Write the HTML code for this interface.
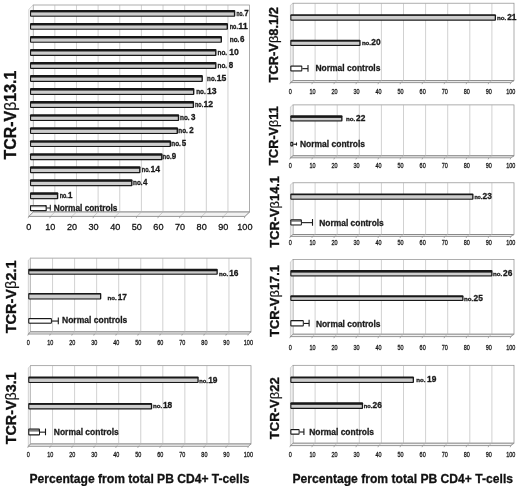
<!DOCTYPE html>
<html lang="en">
<head>
<meta charset="utf-8">
<title>TCR-Vβ expansions - percentage from total PB CD4+ T-cells</title>
<style>
html,body{margin:0;padding:0;background:#fff;}
body{width:520px;height:486px;overflow:hidden;}
svg{display:block;font-family:"Liberation Sans", sans-serif;}
text{font-family:"Liberation Sans", sans-serif;}
</style>
</head>
<body>
<svg width="520" height="486" viewBox="0 0 520 486">
<rect x="0" y="0" width="520" height="486" fill="#ffffff"/>
<rect x="33.2" y="5" width="216.4" height="207" fill="#fff" stroke="#8a8a8a" stroke-width="0.7"/>
<polygon points="28.75,216.4 33.2,212 33.2,5 28.75,9.4" fill="#fafafa" stroke="#b0b0b0" stroke-width="0.5"/>
<polygon points="28.75,216.4 33.2,212 249.6,212 244.9,216.4" fill="#f2f2f2" stroke="#6a6a6a" stroke-width="0.7"/>
<line x1="33.2" y1="212" x2="28.75" y2="216.4" stroke="#b2b2b2" stroke-width="0.6"/>
<line x1="28.75" y1="216.4" x2="28.15" y2="218.2" stroke="#777" stroke-width="0.6"/>
<text transform="translate(28.75 229.9) scale(0.95 1)" font-size="9.6" font-weight="normal" text-anchor="middle" fill="#141414" stroke="#141414" stroke-width="0.3">0</text>
<line x1="54.84" y1="5" x2="54.84" y2="212" stroke="#b2b2b2" stroke-width="0.6"/>
<line x1="54.84" y1="212" x2="50.37" y2="216.4" stroke="#b2b2b2" stroke-width="0.6"/>
<line x1="50.37" y1="216.4" x2="49.77" y2="218.2" stroke="#777" stroke-width="0.6"/>
<text transform="translate(50.37 229.9) scale(0.95 1)" font-size="9.6" font-weight="normal" text-anchor="middle" fill="#141414" stroke="#141414" stroke-width="0.3">10</text>
<line x1="76.48" y1="5" x2="76.48" y2="212" stroke="#b2b2b2" stroke-width="0.6"/>
<line x1="76.48" y1="212" x2="71.98" y2="216.4" stroke="#b2b2b2" stroke-width="0.6"/>
<line x1="71.98" y1="216.4" x2="71.38" y2="218.2" stroke="#777" stroke-width="0.6"/>
<text transform="translate(71.98 229.9) scale(0.95 1)" font-size="9.6" font-weight="normal" text-anchor="middle" fill="#141414" stroke="#141414" stroke-width="0.3">20</text>
<line x1="98.12" y1="5" x2="98.12" y2="212" stroke="#b2b2b2" stroke-width="0.6"/>
<line x1="98.12" y1="212" x2="93.59" y2="216.4" stroke="#b2b2b2" stroke-width="0.6"/>
<line x1="93.59" y1="216.4" x2="93" y2="218.2" stroke="#777" stroke-width="0.6"/>
<text transform="translate(93.59 229.9) scale(0.95 1)" font-size="9.6" font-weight="normal" text-anchor="middle" fill="#141414" stroke="#141414" stroke-width="0.3">30</text>
<line x1="119.76" y1="5" x2="119.76" y2="212" stroke="#b2b2b2" stroke-width="0.6"/>
<line x1="119.76" y1="212" x2="115.21" y2="216.4" stroke="#b2b2b2" stroke-width="0.6"/>
<line x1="115.21" y1="216.4" x2="114.61" y2="218.2" stroke="#777" stroke-width="0.6"/>
<text transform="translate(115.21 229.9) scale(0.95 1)" font-size="9.6" font-weight="normal" text-anchor="middle" fill="#141414" stroke="#141414" stroke-width="0.3">40</text>
<line x1="141.4" y1="5" x2="141.4" y2="212" stroke="#b2b2b2" stroke-width="0.6"/>
<line x1="141.4" y1="212" x2="136.83" y2="216.4" stroke="#b2b2b2" stroke-width="0.6"/>
<line x1="136.83" y1="216.4" x2="136.23" y2="218.2" stroke="#777" stroke-width="0.6"/>
<text transform="translate(136.83 229.9) scale(0.95 1)" font-size="9.6" font-weight="normal" text-anchor="middle" fill="#141414" stroke="#141414" stroke-width="0.3">50</text>
<line x1="163.04" y1="5" x2="163.04" y2="212" stroke="#b2b2b2" stroke-width="0.6"/>
<line x1="163.04" y1="212" x2="158.44" y2="216.4" stroke="#b2b2b2" stroke-width="0.6"/>
<line x1="158.44" y1="216.4" x2="157.84" y2="218.2" stroke="#777" stroke-width="0.6"/>
<text transform="translate(158.44 229.9) scale(0.95 1)" font-size="9.6" font-weight="normal" text-anchor="middle" fill="#141414" stroke="#141414" stroke-width="0.3">60</text>
<line x1="184.68" y1="5" x2="184.68" y2="212" stroke="#b2b2b2" stroke-width="0.6"/>
<line x1="184.68" y1="212" x2="180.06" y2="216.4" stroke="#b2b2b2" stroke-width="0.6"/>
<line x1="180.06" y1="216.4" x2="179.46" y2="218.2" stroke="#777" stroke-width="0.6"/>
<text transform="translate(180.06 229.9) scale(0.95 1)" font-size="9.6" font-weight="normal" text-anchor="middle" fill="#141414" stroke="#141414" stroke-width="0.3">70</text>
<line x1="206.32" y1="5" x2="206.32" y2="212" stroke="#b2b2b2" stroke-width="0.6"/>
<line x1="206.32" y1="212" x2="201.67" y2="216.4" stroke="#b2b2b2" stroke-width="0.6"/>
<line x1="201.67" y1="216.4" x2="201.07" y2="218.2" stroke="#777" stroke-width="0.6"/>
<text transform="translate(201.67 229.9) scale(0.95 1)" font-size="9.6" font-weight="normal" text-anchor="middle" fill="#141414" stroke="#141414" stroke-width="0.3">80</text>
<line x1="227.96" y1="5" x2="227.96" y2="212" stroke="#b2b2b2" stroke-width="0.6"/>
<line x1="227.96" y1="212" x2="223.29" y2="216.4" stroke="#b2b2b2" stroke-width="0.6"/>
<line x1="223.29" y1="216.4" x2="222.69" y2="218.2" stroke="#777" stroke-width="0.6"/>
<text transform="translate(223.29 229.9) scale(0.95 1)" font-size="9.6" font-weight="normal" text-anchor="middle" fill="#141414" stroke="#141414" stroke-width="0.3">90</text>
<line x1="249.6" y1="212" x2="244.9" y2="216.4" stroke="#b2b2b2" stroke-width="0.6"/>
<line x1="244.9" y1="216.4" x2="244.3" y2="218.2" stroke="#777" stroke-width="0.6"/>
<text transform="translate(244.9 229.9) scale(0.95 1)" font-size="9.6" font-weight="normal" text-anchor="middle" fill="#141414" stroke="#141414" stroke-width="0.3">100</text>
<rect x="30" y="9.9" width="205.3" height="6.9" rx="1" ry="1" fill="#181818"/>
<rect x="31.1" y="12.4" width="202.8" height="3.25" fill="#cdcdcd"/>
<text y="16" font-weight="bold" fill="#1a1a1a" stroke="#1a1a1a" stroke-width="0.3"><tspan x="236.5" font-size="6.4" textLength="7.35" lengthAdjust="spacingAndGlyphs">no.</tspan><tspan x="244.15" font-size="9" textLength="4.45" lengthAdjust="spacingAndGlyphs">7</tspan></text>
<rect x="30" y="22.93" width="198" height="6.9" rx="1" ry="1" fill="#181818"/>
<rect x="31.1" y="25.43" width="195.5" height="3.25" fill="#cdcdcd"/>
<text y="29.03" font-weight="bold" fill="#1a1a1a" stroke="#1a1a1a" stroke-width="0.3"><tspan x="229.8" font-size="6.4" textLength="8.1" lengthAdjust="spacingAndGlyphs">no.</tspan><tspan x="238.2" font-size="9" textLength="9.6" lengthAdjust="spacingAndGlyphs">11</tspan></text>
<rect x="30" y="35.96" width="192" height="6.9" rx="1" ry="1" fill="#181818"/>
<rect x="31.1" y="38.46" width="189.5" height="3.25" fill="#cdcdcd"/>
<text y="42.06" font-weight="bold" fill="#1a1a1a" stroke="#1a1a1a" stroke-width="0.3"><tspan x="229.8" font-size="6.4" textLength="9.6" lengthAdjust="spacingAndGlyphs">no.</tspan><tspan x="239.95" font-size="9" textLength="4.45" lengthAdjust="spacingAndGlyphs">6</tspan></text>
<rect x="30" y="48.99" width="186.5" height="6.9" rx="1" ry="1" fill="#181818"/>
<rect x="31.1" y="51.49" width="184" height="3.25" fill="#cdcdcd"/>
<text y="55.09" font-weight="bold" fill="#1a1a1a" stroke="#1a1a1a" stroke-width="0.3"><tspan x="217.5" font-size="6.4" textLength="9.6" lengthAdjust="spacingAndGlyphs">no.</tspan><tspan x="229.2" font-size="9" textLength="9.6" lengthAdjust="spacingAndGlyphs">10</tspan></text>
<rect x="30" y="62.02" width="186.5" height="6.9" rx="1" ry="1" fill="#181818"/>
<rect x="31.1" y="64.52" width="184" height="3.25" fill="#cdcdcd"/>
<text y="68.12" font-weight="bold" fill="#1a1a1a" stroke="#1a1a1a" stroke-width="0.3"><tspan x="217.5" font-size="6.4" textLength="9.6" lengthAdjust="spacingAndGlyphs">no.</tspan><tspan x="228.65" font-size="9" textLength="4.45" lengthAdjust="spacingAndGlyphs">8</tspan></text>
<rect x="30" y="75.05" width="172.9" height="6.9" rx="1" ry="1" fill="#181818"/>
<rect x="31.1" y="77.55" width="170.4" height="3.25" fill="#cdcdcd"/>
<text y="81.15" font-weight="bold" fill="#1a1a1a" stroke="#1a1a1a" stroke-width="0.3"><tspan x="207.1" font-size="6.4" textLength="9.3" lengthAdjust="spacingAndGlyphs">no.</tspan><tspan x="216.7" font-size="9" textLength="9.6" lengthAdjust="spacingAndGlyphs">15</tspan></text>
<rect x="30" y="88.08" width="164.4" height="6.9" rx="1" ry="1" fill="#181818"/>
<rect x="31.1" y="90.58" width="161.9" height="3.25" fill="#cdcdcd"/>
<text y="94.18" font-weight="bold" fill="#1a1a1a" stroke="#1a1a1a" stroke-width="0.3"><tspan x="196.2" font-size="6.4" textLength="9.6" lengthAdjust="spacingAndGlyphs">no.</tspan><tspan x="206.9" font-size="9" textLength="9.6" lengthAdjust="spacingAndGlyphs">13</tspan></text>
<rect x="30" y="101.11" width="164.1" height="6.9" rx="1" ry="1" fill="#181818"/>
<rect x="31.1" y="103.61" width="161.6" height="3.25" fill="#cdcdcd"/>
<text y="107.21" font-weight="bold" fill="#1a1a1a" stroke="#1a1a1a" stroke-width="0.3"><tspan x="195" font-size="6.4" textLength="8.2" lengthAdjust="spacingAndGlyphs">no.</tspan><tspan x="203.5" font-size="9" textLength="9.6" lengthAdjust="spacingAndGlyphs">12</tspan></text>
<rect x="30" y="114.14" width="149.2" height="6.9" rx="1" ry="1" fill="#181818"/>
<rect x="31.1" y="116.64" width="146.7" height="3.25" fill="#cdcdcd"/>
<text y="120.24" font-weight="bold" fill="#1a1a1a" stroke="#1a1a1a" stroke-width="0.3"><tspan x="180" font-size="6.4" textLength="9.6" lengthAdjust="spacingAndGlyphs">no.</tspan><tspan x="191.05" font-size="9" textLength="4.45" lengthAdjust="spacingAndGlyphs">3</tspan></text>
<rect x="30" y="127.17" width="148" height="6.9" rx="1" ry="1" fill="#181818"/>
<rect x="31.1" y="129.67" width="145.5" height="3.25" fill="#cdcdcd"/>
<text y="133.27" font-weight="bold" fill="#1a1a1a" stroke="#1a1a1a" stroke-width="0.3"><tspan x="178.3" font-size="6.4" textLength="9.6" lengthAdjust="spacingAndGlyphs">no.</tspan><tspan x="189.35" font-size="9" textLength="4.45" lengthAdjust="spacingAndGlyphs">2</tspan></text>
<rect x="30" y="140.2" width="141" height="6.9" rx="1" ry="1" fill="#181818"/>
<rect x="31.1" y="142.7" width="138.5" height="3.25" fill="#cdcdcd"/>
<text y="146.3" font-weight="bold" fill="#1a1a1a" stroke="#1a1a1a" stroke-width="0.3"><tspan x="171.3" font-size="6.4" textLength="9.6" lengthAdjust="spacingAndGlyphs">no.</tspan><tspan x="181.85" font-size="9" textLength="4.45" lengthAdjust="spacingAndGlyphs">5</tspan></text>
<rect x="30" y="153.23" width="132.5" height="6.9" rx="1" ry="1" fill="#181818"/>
<rect x="31.1" y="155.73" width="130" height="3.25" fill="#cdcdcd"/>
<text y="159.33" font-weight="bold" fill="#1a1a1a" stroke="#1a1a1a" stroke-width="0.3"><tspan x="162.6" font-size="6.4" textLength="8.95" lengthAdjust="spacingAndGlyphs">no.</tspan><tspan x="171.85" font-size="9" textLength="4.45" lengthAdjust="spacingAndGlyphs">9</tspan></text>
<rect x="30" y="166.26" width="110.5" height="6.9" rx="1" ry="1" fill="#181818"/>
<rect x="31.1" y="168.76" width="108" height="3.25" fill="#cdcdcd"/>
<text y="172.36" font-weight="bold" fill="#1a1a1a" stroke="#1a1a1a" stroke-width="0.3"><tspan x="141.8" font-size="6.4" textLength="8.3" lengthAdjust="spacingAndGlyphs">no.</tspan><tspan x="150.4" font-size="9" textLength="9.6" lengthAdjust="spacingAndGlyphs">14</tspan></text>
<rect x="30" y="179.29" width="102.5" height="6.9" rx="1" ry="1" fill="#181818"/>
<rect x="31.1" y="181.79" width="100" height="3.25" fill="#cdcdcd"/>
<text y="185.39" font-weight="bold" fill="#1a1a1a" stroke="#1a1a1a" stroke-width="0.3"><tspan x="133" font-size="6.4" textLength="9.6" lengthAdjust="spacingAndGlyphs">no.</tspan><tspan x="143.05" font-size="9" textLength="4.45" lengthAdjust="spacingAndGlyphs">4</tspan></text>
<rect x="30" y="192.32" width="28.3" height="6.9" rx="1" ry="1" fill="#181818"/>
<rect x="31.1" y="194.82" width="25.8" height="3.25" fill="#cdcdcd"/>
<text y="198.42" font-weight="bold" fill="#1a1a1a" stroke="#1a1a1a" stroke-width="0.3"><tspan x="59.7" font-size="6.4" textLength="8.05" lengthAdjust="spacingAndGlyphs">no.</tspan><tspan x="68.05" font-size="9" textLength="4.45" lengthAdjust="spacingAndGlyphs">1</tspan></text>
<rect x="30" y="204.9" width="16.8" height="6.3" rx="1" ry="1" fill="#181818"/>
<rect x="31" y="205.7" width="14.4" height="1.6" fill="#8a8a8a"/>
<rect x="31.1" y="207.1" width="14.5" height="2.95" fill="#ffffff"/>
<line x1="46.8" y1="208" x2="50.3" y2="208" stroke="#181818" stroke-width="1"/>
<line x1="50.3" y1="204.8" x2="50.3" y2="210.7" stroke="#181818" stroke-width="1"/>
<text x="53.7" y="211" textLength="63.8" lengthAdjust="spacingAndGlyphs" font-size="9.3" font-weight="bold" fill="#1a1a1a" stroke="#1a1a1a" stroke-width="0.3">Normal controls</text>
<text transform="translate(16.3 159.4) rotate(-90) scale(0.97 1)" font-size="16.4" font-weight="bold" fill="#111" stroke="#111" stroke-width="0.35">TCR-V<tspan font-weight="normal" stroke-width="0.2">β</tspan>13.1</text>
<rect x="30.5" y="258.1" width="220.5" height="73.8" fill="#fff" stroke="#8a8a8a" stroke-width="0.7"/>
<polygon points="28.3,334 30.5,331.9 30.5,258.1 28.3,260.2" fill="#eeeeee" stroke="#b0b0b0" stroke-width="0.5"/>
<polygon points="28.3,334 30.5,331.9 251,331.9 248.4,334" fill="#f2f2f2" stroke="#6a6a6a" stroke-width="0.7"/>
<line x1="30.5" y1="331.9" x2="28.3" y2="334" stroke="#b2b2b2" stroke-width="0.6"/>
<line x1="28.3" y1="334" x2="27.7" y2="335.6" stroke="#777" stroke-width="0.6"/>
<text transform="translate(28.3 344.7) scale(0.86 1)" font-size="6.4" font-weight="normal" text-anchor="middle" fill="#141414" stroke="#141414" stroke-width="0.25">0</text>
<line x1="52.55" y1="258.1" x2="52.55" y2="331.9" stroke="#b2b2b2" stroke-width="0.6"/>
<line x1="52.55" y1="331.9" x2="50.31" y2="334" stroke="#b2b2b2" stroke-width="0.6"/>
<line x1="50.31" y1="334" x2="49.71" y2="335.6" stroke="#777" stroke-width="0.6"/>
<text transform="translate(50.31 344.7) scale(0.86 1)" font-size="6.4" font-weight="normal" text-anchor="middle" fill="#141414" stroke="#141414" stroke-width="0.25">10</text>
<line x1="74.6" y1="258.1" x2="74.6" y2="331.9" stroke="#b2b2b2" stroke-width="0.6"/>
<line x1="74.6" y1="331.9" x2="72.32" y2="334" stroke="#b2b2b2" stroke-width="0.6"/>
<line x1="72.32" y1="334" x2="71.72" y2="335.6" stroke="#777" stroke-width="0.6"/>
<text transform="translate(72.32 344.7) scale(0.86 1)" font-size="6.4" font-weight="normal" text-anchor="middle" fill="#141414" stroke="#141414" stroke-width="0.25">20</text>
<line x1="96.65" y1="258.1" x2="96.65" y2="331.9" stroke="#b2b2b2" stroke-width="0.6"/>
<line x1="96.65" y1="331.9" x2="94.33" y2="334" stroke="#b2b2b2" stroke-width="0.6"/>
<line x1="94.33" y1="334" x2="93.73" y2="335.6" stroke="#777" stroke-width="0.6"/>
<text transform="translate(94.33 344.7) scale(0.86 1)" font-size="6.4" font-weight="normal" text-anchor="middle" fill="#141414" stroke="#141414" stroke-width="0.25">30</text>
<line x1="118.7" y1="258.1" x2="118.7" y2="331.9" stroke="#b2b2b2" stroke-width="0.6"/>
<line x1="118.7" y1="331.9" x2="116.34" y2="334" stroke="#b2b2b2" stroke-width="0.6"/>
<line x1="116.34" y1="334" x2="115.74" y2="335.6" stroke="#777" stroke-width="0.6"/>
<text transform="translate(116.34 344.7) scale(0.86 1)" font-size="6.4" font-weight="normal" text-anchor="middle" fill="#141414" stroke="#141414" stroke-width="0.25">40</text>
<line x1="140.75" y1="258.1" x2="140.75" y2="331.9" stroke="#b2b2b2" stroke-width="0.6"/>
<line x1="140.75" y1="331.9" x2="138.35" y2="334" stroke="#b2b2b2" stroke-width="0.6"/>
<line x1="138.35" y1="334" x2="137.75" y2="335.6" stroke="#777" stroke-width="0.6"/>
<text transform="translate(138.35 344.7) scale(0.86 1)" font-size="6.4" font-weight="normal" text-anchor="middle" fill="#141414" stroke="#141414" stroke-width="0.25">50</text>
<line x1="162.8" y1="258.1" x2="162.8" y2="331.9" stroke="#b2b2b2" stroke-width="0.6"/>
<line x1="162.8" y1="331.9" x2="160.36" y2="334" stroke="#b2b2b2" stroke-width="0.6"/>
<line x1="160.36" y1="334" x2="159.76" y2="335.6" stroke="#777" stroke-width="0.6"/>
<text transform="translate(160.36 344.7) scale(0.86 1)" font-size="6.4" font-weight="normal" text-anchor="middle" fill="#141414" stroke="#141414" stroke-width="0.25">60</text>
<line x1="184.85" y1="258.1" x2="184.85" y2="331.9" stroke="#b2b2b2" stroke-width="0.6"/>
<line x1="184.85" y1="331.9" x2="182.37" y2="334" stroke="#b2b2b2" stroke-width="0.6"/>
<line x1="182.37" y1="334" x2="181.77" y2="335.6" stroke="#777" stroke-width="0.6"/>
<text transform="translate(182.37 344.7) scale(0.86 1)" font-size="6.4" font-weight="normal" text-anchor="middle" fill="#141414" stroke="#141414" stroke-width="0.25">70</text>
<line x1="206.9" y1="258.1" x2="206.9" y2="331.9" stroke="#b2b2b2" stroke-width="0.6"/>
<line x1="206.9" y1="331.9" x2="204.38" y2="334" stroke="#b2b2b2" stroke-width="0.6"/>
<line x1="204.38" y1="334" x2="203.78" y2="335.6" stroke="#777" stroke-width="0.6"/>
<text transform="translate(204.38 344.7) scale(0.86 1)" font-size="6.4" font-weight="normal" text-anchor="middle" fill="#141414" stroke="#141414" stroke-width="0.25">80</text>
<line x1="228.95" y1="258.1" x2="228.95" y2="331.9" stroke="#b2b2b2" stroke-width="0.6"/>
<line x1="228.95" y1="331.9" x2="226.39" y2="334" stroke="#b2b2b2" stroke-width="0.6"/>
<line x1="226.39" y1="334" x2="225.79" y2="335.6" stroke="#777" stroke-width="0.6"/>
<text transform="translate(226.39 344.7) scale(0.86 1)" font-size="6.4" font-weight="normal" text-anchor="middle" fill="#141414" stroke="#141414" stroke-width="0.25">90</text>
<line x1="251" y1="331.9" x2="248.4" y2="334" stroke="#b2b2b2" stroke-width="0.6"/>
<line x1="248.4" y1="334" x2="247.8" y2="335.6" stroke="#777" stroke-width="0.6"/>
<text transform="translate(248.4 344.7) scale(0.86 1)" font-size="6.4" font-weight="normal" text-anchor="middle" fill="#141414" stroke="#141414" stroke-width="0.25">100</text>
<rect x="28.2" y="268.7" width="189.6" height="6.1" rx="1" ry="1" fill="#181818"/>
<rect x="29.3" y="271.3" width="187.2" height="2.35" fill="#cdcdcd"/>
<text y="275.6" font-weight="bold" fill="#1a1a1a" stroke="#1a1a1a" stroke-width="0.3"><tspan x="219" font-size="5.8" textLength="9.2" lengthAdjust="spacingAndGlyphs">no.</tspan><tspan x="229.2" font-size="8.6" textLength="9.3" lengthAdjust="spacingAndGlyphs">16</tspan></text>
<rect x="28.2" y="293.1" width="73.1" height="6.5" rx="1" ry="1" fill="#181818"/>
<rect x="29.3" y="294.6" width="70.7" height="3.85" fill="#cdcdcd"/>
<text y="299.8" font-weight="bold" fill="#1a1a1a" stroke="#1a1a1a" stroke-width="0.3"><tspan x="107.5" font-size="5.8" textLength="9.2" lengthAdjust="spacingAndGlyphs">no.</tspan><tspan x="117.7" font-size="8.6" textLength="9.3" lengthAdjust="spacingAndGlyphs">17</tspan></text>
<rect x="28.2" y="317.9" width="23.7" height="5.9" rx="1" ry="1" fill="#181818"/>
<rect x="29.3" y="319.2" width="21.6" height="3.45" fill="#ffffff"/>
<line x1="51.9" y1="321.05" x2="58.3" y2="321.05" stroke="#181818" stroke-width="1.1"/>
<line x1="58.3" y1="317.45" x2="58.3" y2="324.15" stroke="#181818" stroke-width="1.1"/>
<text x="62" y="323" textLength="65.3" lengthAdjust="spacingAndGlyphs" font-size="9.4" font-weight="bold" fill="#1a1a1a" stroke="#1a1a1a" stroke-width="0.3">Normal controls</text>
<text transform="translate(16.3 333.3) rotate(-90) scale(0.95 1)" font-size="15.3" font-weight="bold" fill="#111" stroke="#111" stroke-width="0.35">TCR-V<tspan font-weight="normal" stroke-width="0.2">β</tspan>2.1</text>
<rect x="30.5" y="365.7" width="220.5" height="78.3" fill="#fff" stroke="#8a8a8a" stroke-width="0.7"/>
<polygon points="28.3,446.3 30.5,444 30.5,365.7 28.3,368" fill="#eeeeee" stroke="#b0b0b0" stroke-width="0.5"/>
<polygon points="28.3,446.3 30.5,444 251,444 248.4,446.3" fill="#f2f2f2" stroke="#6a6a6a" stroke-width="0.7"/>
<line x1="30.5" y1="444" x2="28.3" y2="446.3" stroke="#b2b2b2" stroke-width="0.6"/>
<line x1="28.3" y1="446.3" x2="27.7" y2="447.9" stroke="#777" stroke-width="0.6"/>
<text transform="translate(28.3 457.2) scale(0.86 1)" font-size="6.4" font-weight="normal" text-anchor="middle" fill="#141414" stroke="#141414" stroke-width="0.25">0</text>
<line x1="52.55" y1="365.7" x2="52.55" y2="444" stroke="#b2b2b2" stroke-width="0.6"/>
<line x1="52.55" y1="444" x2="50.31" y2="446.3" stroke="#b2b2b2" stroke-width="0.6"/>
<line x1="50.31" y1="446.3" x2="49.71" y2="447.9" stroke="#777" stroke-width="0.6"/>
<text transform="translate(50.31 457.2) scale(0.86 1)" font-size="6.4" font-weight="normal" text-anchor="middle" fill="#141414" stroke="#141414" stroke-width="0.25">10</text>
<line x1="74.6" y1="365.7" x2="74.6" y2="444" stroke="#b2b2b2" stroke-width="0.6"/>
<line x1="74.6" y1="444" x2="72.32" y2="446.3" stroke="#b2b2b2" stroke-width="0.6"/>
<line x1="72.32" y1="446.3" x2="71.72" y2="447.9" stroke="#777" stroke-width="0.6"/>
<text transform="translate(72.32 457.2) scale(0.86 1)" font-size="6.4" font-weight="normal" text-anchor="middle" fill="#141414" stroke="#141414" stroke-width="0.25">20</text>
<line x1="96.65" y1="365.7" x2="96.65" y2="444" stroke="#b2b2b2" stroke-width="0.6"/>
<line x1="96.65" y1="444" x2="94.33" y2="446.3" stroke="#b2b2b2" stroke-width="0.6"/>
<line x1="94.33" y1="446.3" x2="93.73" y2="447.9" stroke="#777" stroke-width="0.6"/>
<text transform="translate(94.33 457.2) scale(0.86 1)" font-size="6.4" font-weight="normal" text-anchor="middle" fill="#141414" stroke="#141414" stroke-width="0.25">30</text>
<line x1="118.7" y1="365.7" x2="118.7" y2="444" stroke="#b2b2b2" stroke-width="0.6"/>
<line x1="118.7" y1="444" x2="116.34" y2="446.3" stroke="#b2b2b2" stroke-width="0.6"/>
<line x1="116.34" y1="446.3" x2="115.74" y2="447.9" stroke="#777" stroke-width="0.6"/>
<text transform="translate(116.34 457.2) scale(0.86 1)" font-size="6.4" font-weight="normal" text-anchor="middle" fill="#141414" stroke="#141414" stroke-width="0.25">40</text>
<line x1="140.75" y1="365.7" x2="140.75" y2="444" stroke="#b2b2b2" stroke-width="0.6"/>
<line x1="140.75" y1="444" x2="138.35" y2="446.3" stroke="#b2b2b2" stroke-width="0.6"/>
<line x1="138.35" y1="446.3" x2="137.75" y2="447.9" stroke="#777" stroke-width="0.6"/>
<text transform="translate(138.35 457.2) scale(0.86 1)" font-size="6.4" font-weight="normal" text-anchor="middle" fill="#141414" stroke="#141414" stroke-width="0.25">50</text>
<line x1="162.8" y1="365.7" x2="162.8" y2="444" stroke="#b2b2b2" stroke-width="0.6"/>
<line x1="162.8" y1="444" x2="160.36" y2="446.3" stroke="#b2b2b2" stroke-width="0.6"/>
<line x1="160.36" y1="446.3" x2="159.76" y2="447.9" stroke="#777" stroke-width="0.6"/>
<text transform="translate(160.36 457.2) scale(0.86 1)" font-size="6.4" font-weight="normal" text-anchor="middle" fill="#141414" stroke="#141414" stroke-width="0.25">60</text>
<line x1="184.85" y1="365.7" x2="184.85" y2="444" stroke="#b2b2b2" stroke-width="0.6"/>
<line x1="184.85" y1="444" x2="182.37" y2="446.3" stroke="#b2b2b2" stroke-width="0.6"/>
<line x1="182.37" y1="446.3" x2="181.77" y2="447.9" stroke="#777" stroke-width="0.6"/>
<text transform="translate(182.37 457.2) scale(0.86 1)" font-size="6.4" font-weight="normal" text-anchor="middle" fill="#141414" stroke="#141414" stroke-width="0.25">70</text>
<line x1="206.9" y1="365.7" x2="206.9" y2="444" stroke="#b2b2b2" stroke-width="0.6"/>
<line x1="206.9" y1="444" x2="204.38" y2="446.3" stroke="#b2b2b2" stroke-width="0.6"/>
<line x1="204.38" y1="446.3" x2="203.78" y2="447.9" stroke="#777" stroke-width="0.6"/>
<text transform="translate(204.38 457.2) scale(0.86 1)" font-size="6.4" font-weight="normal" text-anchor="middle" fill="#141414" stroke="#141414" stroke-width="0.25">80</text>
<line x1="228.95" y1="365.7" x2="228.95" y2="444" stroke="#b2b2b2" stroke-width="0.6"/>
<line x1="228.95" y1="444" x2="226.39" y2="446.3" stroke="#b2b2b2" stroke-width="0.6"/>
<line x1="226.39" y1="446.3" x2="225.79" y2="447.9" stroke="#777" stroke-width="0.6"/>
<text transform="translate(226.39 457.2) scale(0.86 1)" font-size="6.4" font-weight="normal" text-anchor="middle" fill="#141414" stroke="#141414" stroke-width="0.25">90</text>
<line x1="251" y1="444" x2="248.4" y2="446.3" stroke="#b2b2b2" stroke-width="0.6"/>
<line x1="248.4" y1="446.3" x2="247.8" y2="447.9" stroke="#777" stroke-width="0.6"/>
<text transform="translate(248.4 457.2) scale(0.86 1)" font-size="6.4" font-weight="normal" text-anchor="middle" fill="#141414" stroke="#141414" stroke-width="0.25">100</text>
<rect x="28.2" y="376.5" width="170.5" height="6.6" rx="1" ry="1" fill="#181818"/>
<rect x="29.3" y="378.5" width="168.1" height="3.45" fill="#cdcdcd"/>
<text y="382.5" font-weight="bold" fill="#1a1a1a" stroke="#1a1a1a" stroke-width="0.3"><tspan x="199.3" font-size="5.8" textLength="8.6" lengthAdjust="spacingAndGlyphs">no.</tspan><tspan x="208.2" font-size="8.6" textLength="9.3" lengthAdjust="spacingAndGlyphs">19</tspan></text>
<rect x="28.2" y="402.9" width="124" height="6.5" rx="1" ry="1" fill="#181818"/>
<rect x="29.3" y="404.9" width="121.6" height="3.35" fill="#cdcdcd"/>
<text y="408.1" font-weight="bold" fill="#1a1a1a" stroke="#1a1a1a" stroke-width="0.3"><tspan x="152.9" font-size="5.8" textLength="9.2" lengthAdjust="spacingAndGlyphs">no.</tspan><tspan x="162.9" font-size="8.6" textLength="9.3" lengthAdjust="spacingAndGlyphs">18</tspan></text>
<rect x="28.2" y="428.5" width="11.8" height="6.9" rx="1" ry="1" fill="#181818"/>
<rect x="29.2" y="429.3" width="9.6" height="2.4" fill="#7d7d7d"/>
<rect x="29.3" y="431.5" width="9.7" height="2.75" fill="#ffffff"/>
<line x1="40" y1="432.15" x2="45.5" y2="432.15" stroke="#181818" stroke-width="1.1"/>
<line x1="45.5" y1="428.55" x2="45.5" y2="435.25" stroke="#181818" stroke-width="1.1"/>
<text x="53.8" y="435" textLength="65" lengthAdjust="spacingAndGlyphs" font-size="9.4" font-weight="bold" fill="#1a1a1a" stroke="#1a1a1a" stroke-width="0.3">Normal controls</text>
<text transform="translate(16.2 444.3) rotate(-90) scale(0.95 1)" font-size="15.1" font-weight="bold" fill="#111" stroke="#111" stroke-width="0.35">TCR-V<tspan font-weight="normal" stroke-width="0.2">β</tspan>3.1</text>
<rect x="293" y="3.2" width="221" height="77.4" fill="#fff" stroke="#8a8a8a" stroke-width="0.7"/>
<polygon points="290.4,82.6 293,80.6 293,3.2 290.4,5.2" fill="#eeeeee" stroke="#b0b0b0" stroke-width="0.5"/>
<polygon points="290.4,82.6 293,80.6 514,80.6 510.8,82.6" fill="#f2f2f2" stroke="#6a6a6a" stroke-width="0.7"/>
<line x1="293" y1="80.6" x2="290.4" y2="82.6" stroke="#b2b2b2" stroke-width="0.6"/>
<line x1="290.4" y1="82.6" x2="289.8" y2="84.2" stroke="#777" stroke-width="0.6"/>
<text transform="translate(290.4 93.7) scale(0.86 1)" font-size="6.4" font-weight="normal" text-anchor="middle" fill="#141414" stroke="#141414" stroke-width="0.25">0</text>
<line x1="315.1" y1="3.2" x2="315.1" y2="80.6" stroke="#b2b2b2" stroke-width="0.6"/>
<line x1="315.1" y1="80.6" x2="312.44" y2="82.6" stroke="#b2b2b2" stroke-width="0.6"/>
<line x1="312.44" y1="82.6" x2="311.84" y2="84.2" stroke="#777" stroke-width="0.6"/>
<text transform="translate(312.44 93.7) scale(0.86 1)" font-size="6.4" font-weight="normal" text-anchor="middle" fill="#141414" stroke="#141414" stroke-width="0.25">10</text>
<line x1="337.2" y1="3.2" x2="337.2" y2="80.6" stroke="#b2b2b2" stroke-width="0.6"/>
<line x1="337.2" y1="80.6" x2="334.48" y2="82.6" stroke="#b2b2b2" stroke-width="0.6"/>
<line x1="334.48" y1="82.6" x2="333.88" y2="84.2" stroke="#777" stroke-width="0.6"/>
<text transform="translate(334.48 93.7) scale(0.86 1)" font-size="6.4" font-weight="normal" text-anchor="middle" fill="#141414" stroke="#141414" stroke-width="0.25">20</text>
<line x1="359.3" y1="3.2" x2="359.3" y2="80.6" stroke="#b2b2b2" stroke-width="0.6"/>
<line x1="359.3" y1="80.6" x2="356.52" y2="82.6" stroke="#b2b2b2" stroke-width="0.6"/>
<line x1="356.52" y1="82.6" x2="355.92" y2="84.2" stroke="#777" stroke-width="0.6"/>
<text transform="translate(356.52 93.7) scale(0.86 1)" font-size="6.4" font-weight="normal" text-anchor="middle" fill="#141414" stroke="#141414" stroke-width="0.25">30</text>
<line x1="381.4" y1="3.2" x2="381.4" y2="80.6" stroke="#b2b2b2" stroke-width="0.6"/>
<line x1="381.4" y1="80.6" x2="378.56" y2="82.6" stroke="#b2b2b2" stroke-width="0.6"/>
<line x1="378.56" y1="82.6" x2="377.96" y2="84.2" stroke="#777" stroke-width="0.6"/>
<text transform="translate(378.56 93.7) scale(0.86 1)" font-size="6.4" font-weight="normal" text-anchor="middle" fill="#141414" stroke="#141414" stroke-width="0.25">40</text>
<line x1="403.5" y1="3.2" x2="403.5" y2="80.6" stroke="#b2b2b2" stroke-width="0.6"/>
<line x1="403.5" y1="80.6" x2="400.6" y2="82.6" stroke="#b2b2b2" stroke-width="0.6"/>
<line x1="400.6" y1="82.6" x2="400" y2="84.2" stroke="#777" stroke-width="0.6"/>
<text transform="translate(400.6 93.7) scale(0.86 1)" font-size="6.4" font-weight="normal" text-anchor="middle" fill="#141414" stroke="#141414" stroke-width="0.25">50</text>
<line x1="425.6" y1="3.2" x2="425.6" y2="80.6" stroke="#b2b2b2" stroke-width="0.6"/>
<line x1="425.6" y1="80.6" x2="422.64" y2="82.6" stroke="#b2b2b2" stroke-width="0.6"/>
<line x1="422.64" y1="82.6" x2="422.04" y2="84.2" stroke="#777" stroke-width="0.6"/>
<text transform="translate(422.64 93.7) scale(0.86 1)" font-size="6.4" font-weight="normal" text-anchor="middle" fill="#141414" stroke="#141414" stroke-width="0.25">60</text>
<line x1="447.7" y1="3.2" x2="447.7" y2="80.6" stroke="#b2b2b2" stroke-width="0.6"/>
<line x1="447.7" y1="80.6" x2="444.68" y2="82.6" stroke="#b2b2b2" stroke-width="0.6"/>
<line x1="444.68" y1="82.6" x2="444.08" y2="84.2" stroke="#777" stroke-width="0.6"/>
<text transform="translate(444.68 93.7) scale(0.86 1)" font-size="6.4" font-weight="normal" text-anchor="middle" fill="#141414" stroke="#141414" stroke-width="0.25">70</text>
<line x1="469.8" y1="3.2" x2="469.8" y2="80.6" stroke="#b2b2b2" stroke-width="0.6"/>
<line x1="469.8" y1="80.6" x2="466.72" y2="82.6" stroke="#b2b2b2" stroke-width="0.6"/>
<line x1="466.72" y1="82.6" x2="466.12" y2="84.2" stroke="#777" stroke-width="0.6"/>
<text transform="translate(466.72 93.7) scale(0.86 1)" font-size="6.4" font-weight="normal" text-anchor="middle" fill="#141414" stroke="#141414" stroke-width="0.25">80</text>
<line x1="491.9" y1="3.2" x2="491.9" y2="80.6" stroke="#b2b2b2" stroke-width="0.6"/>
<line x1="491.9" y1="80.6" x2="488.76" y2="82.6" stroke="#b2b2b2" stroke-width="0.6"/>
<line x1="488.76" y1="82.6" x2="488.16" y2="84.2" stroke="#777" stroke-width="0.6"/>
<text transform="translate(488.76 93.7) scale(0.86 1)" font-size="6.4" font-weight="normal" text-anchor="middle" fill="#141414" stroke="#141414" stroke-width="0.25">90</text>
<line x1="514" y1="80.6" x2="510.8" y2="82.6" stroke="#b2b2b2" stroke-width="0.6"/>
<line x1="510.8" y1="82.6" x2="510.2" y2="84.2" stroke="#777" stroke-width="0.6"/>
<text transform="translate(510.8 93.7) scale(0.86 1)" font-size="6.4" font-weight="normal" text-anchor="middle" fill="#141414" stroke="#141414" stroke-width="0.25">100</text>
<rect x="290.3" y="14.2" width="205.7" height="6.5" rx="1" ry="1" fill="#181818"/>
<rect x="291.4" y="15.9" width="203.3" height="3.65" fill="#cdcdcd"/>
<text y="20.3" font-weight="bold" fill="#1a1a1a" stroke="#1a1a1a" stroke-width="0.3"><tspan x="496.9" font-size="5.8" textLength="9.2" lengthAdjust="spacingAndGlyphs">no.</tspan><tspan x="507.2" font-size="8.6" textLength="9.3" lengthAdjust="spacingAndGlyphs">21</tspan></text>
<rect x="290.3" y="39.7" width="70.3" height="6.3" rx="1" ry="1" fill="#181818"/>
<rect x="291.4" y="41.7" width="67.9" height="3.15" fill="#cdcdcd"/>
<text y="45.3" font-weight="bold" fill="#1a1a1a" stroke="#1a1a1a" stroke-width="0.3"><tspan x="361.9" font-size="5.8" textLength="9.1" lengthAdjust="spacingAndGlyphs">no.</tspan><tspan x="371.3" font-size="8.6" textLength="9.3" lengthAdjust="spacingAndGlyphs">20</tspan></text>
<rect x="290.3" y="65.4" width="12" height="6.1" rx="1" ry="1" fill="#181818"/>
<rect x="291.4" y="66.7" width="9.9" height="3.65" fill="#ffffff"/>
<line x1="302.3" y1="68.65" x2="308" y2="68.65" stroke="#181818" stroke-width="1.1"/>
<line x1="308" y1="65.05" x2="308" y2="71.75" stroke="#181818" stroke-width="1.1"/>
<text x="315.5" y="71.3" textLength="64.9" lengthAdjust="spacingAndGlyphs" font-size="9.4" font-weight="bold" fill="#1a1a1a" stroke="#1a1a1a" stroke-width="0.3">Normal controls</text>
<text transform="translate(278 82.4) rotate(-90) scale(0.96 1)" font-size="13.4" font-weight="bold" fill="#111" stroke="#111" stroke-width="0.35">TCR-V<tspan font-weight="normal" stroke-width="0.2">β</tspan>8.1/2</text>
<rect x="293" y="104.9" width="221" height="50.9" fill="#fff" stroke="#8a8a8a" stroke-width="0.7"/>
<polygon points="290.4,157.8 293,155.8 293,104.9 290.4,106.9" fill="#eeeeee" stroke="#b0b0b0" stroke-width="0.5"/>
<polygon points="290.4,157.8 293,155.8 514,155.8 510.8,157.8" fill="#f2f2f2" stroke="#6a6a6a" stroke-width="0.7"/>
<line x1="293" y1="155.8" x2="290.4" y2="157.8" stroke="#b2b2b2" stroke-width="0.6"/>
<line x1="290.4" y1="157.8" x2="289.8" y2="159.4" stroke="#777" stroke-width="0.6"/>
<text transform="translate(290.4 167.7) scale(0.86 1)" font-size="6.4" font-weight="normal" text-anchor="middle" fill="#141414" stroke="#141414" stroke-width="0.25">0</text>
<line x1="315.1" y1="104.9" x2="315.1" y2="155.8" stroke="#b2b2b2" stroke-width="0.6"/>
<line x1="315.1" y1="155.8" x2="312.44" y2="157.8" stroke="#b2b2b2" stroke-width="0.6"/>
<line x1="312.44" y1="157.8" x2="311.84" y2="159.4" stroke="#777" stroke-width="0.6"/>
<text transform="translate(312.44 167.7) scale(0.86 1)" font-size="6.4" font-weight="normal" text-anchor="middle" fill="#141414" stroke="#141414" stroke-width="0.25">10</text>
<line x1="337.2" y1="104.9" x2="337.2" y2="155.8" stroke="#b2b2b2" stroke-width="0.6"/>
<line x1="337.2" y1="155.8" x2="334.48" y2="157.8" stroke="#b2b2b2" stroke-width="0.6"/>
<line x1="334.48" y1="157.8" x2="333.88" y2="159.4" stroke="#777" stroke-width="0.6"/>
<text transform="translate(334.48 167.7) scale(0.86 1)" font-size="6.4" font-weight="normal" text-anchor="middle" fill="#141414" stroke="#141414" stroke-width="0.25">20</text>
<line x1="359.3" y1="104.9" x2="359.3" y2="155.8" stroke="#b2b2b2" stroke-width="0.6"/>
<line x1="359.3" y1="155.8" x2="356.52" y2="157.8" stroke="#b2b2b2" stroke-width="0.6"/>
<line x1="356.52" y1="157.8" x2="355.92" y2="159.4" stroke="#777" stroke-width="0.6"/>
<text transform="translate(356.52 167.7) scale(0.86 1)" font-size="6.4" font-weight="normal" text-anchor="middle" fill="#141414" stroke="#141414" stroke-width="0.25">30</text>
<line x1="381.4" y1="104.9" x2="381.4" y2="155.8" stroke="#b2b2b2" stroke-width="0.6"/>
<line x1="381.4" y1="155.8" x2="378.56" y2="157.8" stroke="#b2b2b2" stroke-width="0.6"/>
<line x1="378.56" y1="157.8" x2="377.96" y2="159.4" stroke="#777" stroke-width="0.6"/>
<text transform="translate(378.56 167.7) scale(0.86 1)" font-size="6.4" font-weight="normal" text-anchor="middle" fill="#141414" stroke="#141414" stroke-width="0.25">40</text>
<line x1="403.5" y1="104.9" x2="403.5" y2="155.8" stroke="#b2b2b2" stroke-width="0.6"/>
<line x1="403.5" y1="155.8" x2="400.6" y2="157.8" stroke="#b2b2b2" stroke-width="0.6"/>
<line x1="400.6" y1="157.8" x2="400" y2="159.4" stroke="#777" stroke-width="0.6"/>
<text transform="translate(400.6 167.7) scale(0.86 1)" font-size="6.4" font-weight="normal" text-anchor="middle" fill="#141414" stroke="#141414" stroke-width="0.25">50</text>
<line x1="425.6" y1="104.9" x2="425.6" y2="155.8" stroke="#b2b2b2" stroke-width="0.6"/>
<line x1="425.6" y1="155.8" x2="422.64" y2="157.8" stroke="#b2b2b2" stroke-width="0.6"/>
<line x1="422.64" y1="157.8" x2="422.04" y2="159.4" stroke="#777" stroke-width="0.6"/>
<text transform="translate(422.64 167.7) scale(0.86 1)" font-size="6.4" font-weight="normal" text-anchor="middle" fill="#141414" stroke="#141414" stroke-width="0.25">60</text>
<line x1="447.7" y1="104.9" x2="447.7" y2="155.8" stroke="#b2b2b2" stroke-width="0.6"/>
<line x1="447.7" y1="155.8" x2="444.68" y2="157.8" stroke="#b2b2b2" stroke-width="0.6"/>
<line x1="444.68" y1="157.8" x2="444.08" y2="159.4" stroke="#777" stroke-width="0.6"/>
<text transform="translate(444.68 167.7) scale(0.86 1)" font-size="6.4" font-weight="normal" text-anchor="middle" fill="#141414" stroke="#141414" stroke-width="0.25">70</text>
<line x1="469.8" y1="104.9" x2="469.8" y2="155.8" stroke="#b2b2b2" stroke-width="0.6"/>
<line x1="469.8" y1="155.8" x2="466.72" y2="157.8" stroke="#b2b2b2" stroke-width="0.6"/>
<line x1="466.72" y1="157.8" x2="466.12" y2="159.4" stroke="#777" stroke-width="0.6"/>
<text transform="translate(466.72 167.7) scale(0.86 1)" font-size="6.4" font-weight="normal" text-anchor="middle" fill="#141414" stroke="#141414" stroke-width="0.25">80</text>
<line x1="491.9" y1="104.9" x2="491.9" y2="155.8" stroke="#b2b2b2" stroke-width="0.6"/>
<line x1="491.9" y1="155.8" x2="488.76" y2="157.8" stroke="#b2b2b2" stroke-width="0.6"/>
<line x1="488.76" y1="157.8" x2="488.16" y2="159.4" stroke="#777" stroke-width="0.6"/>
<text transform="translate(488.76 167.7) scale(0.86 1)" font-size="6.4" font-weight="normal" text-anchor="middle" fill="#141414" stroke="#141414" stroke-width="0.25">90</text>
<line x1="514" y1="155.8" x2="510.8" y2="157.8" stroke="#b2b2b2" stroke-width="0.6"/>
<line x1="510.8" y1="157.8" x2="510.2" y2="159.4" stroke="#777" stroke-width="0.6"/>
<text transform="translate(510.8 167.7) scale(0.86 1)" font-size="6.4" font-weight="normal" text-anchor="middle" fill="#141414" stroke="#141414" stroke-width="0.25">100</text>
<rect x="290.3" y="115.3" width="52.2" height="6.2" rx="1" ry="1" fill="#181818"/>
<rect x="291.4" y="117.9" width="49.8" height="2.45" fill="#cdcdcd"/>
<text y="120.6" font-weight="bold" fill="#1a1a1a" stroke="#1a1a1a" stroke-width="0.3"><tspan x="345.9" font-size="5.8" textLength="9.2" lengthAdjust="spacingAndGlyphs">no.</tspan><tspan x="356" font-size="8.6" textLength="9.3" lengthAdjust="spacingAndGlyphs">22</tspan></text>
<rect x="290.3" y="141.7" width="2.9" height="4.7" rx="1" ry="1" fill="#181818"/>
<rect x="291.4" y="143" width="0.8" height="2.25" fill="#ffffff"/>
<line x1="293.2" y1="144.25" x2="296.5" y2="144.25" stroke="#181818" stroke-width="1.1"/>
<line x1="296.5" y1="142.45" x2="296.5" y2="145.55" stroke="#181818" stroke-width="1.1"/>
<text x="299.9" y="146.9" textLength="65.1" lengthAdjust="spacingAndGlyphs" font-size="9.4" font-weight="bold" fill="#1a1a1a" stroke="#1a1a1a" stroke-width="0.3">Normal controls</text>
<text transform="translate(278.3 165.6) rotate(-90) scale(0.93 1)" font-size="13.6" font-weight="bold" fill="#111" stroke="#111" stroke-width="0.35">TCR-V<tspan font-weight="normal" stroke-width="0.2">β</tspan>11</text>
<rect x="293" y="182.8" width="221" height="51.7" fill="#fff" stroke="#8a8a8a" stroke-width="0.7"/>
<polygon points="290.4,236.4 293,234.5 293,182.8 290.4,184.7" fill="#eeeeee" stroke="#b0b0b0" stroke-width="0.5"/>
<polygon points="290.4,236.4 293,234.5 514,234.5 510.8,236.4" fill="#f2f2f2" stroke="#6a6a6a" stroke-width="0.7"/>
<line x1="293" y1="234.5" x2="290.4" y2="236.4" stroke="#b2b2b2" stroke-width="0.6"/>
<line x1="290.4" y1="236.4" x2="289.8" y2="238" stroke="#777" stroke-width="0.6"/>
<text transform="translate(290.4 245.2) scale(0.86 1)" font-size="6.4" font-weight="normal" text-anchor="middle" fill="#141414" stroke="#141414" stroke-width="0.25">0</text>
<line x1="315.1" y1="182.8" x2="315.1" y2="234.5" stroke="#b2b2b2" stroke-width="0.6"/>
<line x1="315.1" y1="234.5" x2="312.44" y2="236.4" stroke="#b2b2b2" stroke-width="0.6"/>
<line x1="312.44" y1="236.4" x2="311.84" y2="238" stroke="#777" stroke-width="0.6"/>
<text transform="translate(312.44 245.2) scale(0.86 1)" font-size="6.4" font-weight="normal" text-anchor="middle" fill="#141414" stroke="#141414" stroke-width="0.25">10</text>
<line x1="337.2" y1="182.8" x2="337.2" y2="234.5" stroke="#b2b2b2" stroke-width="0.6"/>
<line x1="337.2" y1="234.5" x2="334.48" y2="236.4" stroke="#b2b2b2" stroke-width="0.6"/>
<line x1="334.48" y1="236.4" x2="333.88" y2="238" stroke="#777" stroke-width="0.6"/>
<text transform="translate(334.48 245.2) scale(0.86 1)" font-size="6.4" font-weight="normal" text-anchor="middle" fill="#141414" stroke="#141414" stroke-width="0.25">20</text>
<line x1="359.3" y1="182.8" x2="359.3" y2="234.5" stroke="#b2b2b2" stroke-width="0.6"/>
<line x1="359.3" y1="234.5" x2="356.52" y2="236.4" stroke="#b2b2b2" stroke-width="0.6"/>
<line x1="356.52" y1="236.4" x2="355.92" y2="238" stroke="#777" stroke-width="0.6"/>
<text transform="translate(356.52 245.2) scale(0.86 1)" font-size="6.4" font-weight="normal" text-anchor="middle" fill="#141414" stroke="#141414" stroke-width="0.25">30</text>
<line x1="381.4" y1="182.8" x2="381.4" y2="234.5" stroke="#b2b2b2" stroke-width="0.6"/>
<line x1="381.4" y1="234.5" x2="378.56" y2="236.4" stroke="#b2b2b2" stroke-width="0.6"/>
<line x1="378.56" y1="236.4" x2="377.96" y2="238" stroke="#777" stroke-width="0.6"/>
<text transform="translate(378.56 245.2) scale(0.86 1)" font-size="6.4" font-weight="normal" text-anchor="middle" fill="#141414" stroke="#141414" stroke-width="0.25">40</text>
<line x1="403.5" y1="182.8" x2="403.5" y2="234.5" stroke="#b2b2b2" stroke-width="0.6"/>
<line x1="403.5" y1="234.5" x2="400.6" y2="236.4" stroke="#b2b2b2" stroke-width="0.6"/>
<line x1="400.6" y1="236.4" x2="400" y2="238" stroke="#777" stroke-width="0.6"/>
<text transform="translate(400.6 245.2) scale(0.86 1)" font-size="6.4" font-weight="normal" text-anchor="middle" fill="#141414" stroke="#141414" stroke-width="0.25">50</text>
<line x1="425.6" y1="182.8" x2="425.6" y2="234.5" stroke="#b2b2b2" stroke-width="0.6"/>
<line x1="425.6" y1="234.5" x2="422.64" y2="236.4" stroke="#b2b2b2" stroke-width="0.6"/>
<line x1="422.64" y1="236.4" x2="422.04" y2="238" stroke="#777" stroke-width="0.6"/>
<text transform="translate(422.64 245.2) scale(0.86 1)" font-size="6.4" font-weight="normal" text-anchor="middle" fill="#141414" stroke="#141414" stroke-width="0.25">60</text>
<line x1="447.7" y1="182.8" x2="447.7" y2="234.5" stroke="#b2b2b2" stroke-width="0.6"/>
<line x1="447.7" y1="234.5" x2="444.68" y2="236.4" stroke="#b2b2b2" stroke-width="0.6"/>
<line x1="444.68" y1="236.4" x2="444.08" y2="238" stroke="#777" stroke-width="0.6"/>
<text transform="translate(444.68 245.2) scale(0.86 1)" font-size="6.4" font-weight="normal" text-anchor="middle" fill="#141414" stroke="#141414" stroke-width="0.25">70</text>
<line x1="469.8" y1="182.8" x2="469.8" y2="234.5" stroke="#b2b2b2" stroke-width="0.6"/>
<line x1="469.8" y1="234.5" x2="466.72" y2="236.4" stroke="#b2b2b2" stroke-width="0.6"/>
<line x1="466.72" y1="236.4" x2="466.12" y2="238" stroke="#777" stroke-width="0.6"/>
<text transform="translate(466.72 245.2) scale(0.86 1)" font-size="6.4" font-weight="normal" text-anchor="middle" fill="#141414" stroke="#141414" stroke-width="0.25">80</text>
<line x1="491.9" y1="182.8" x2="491.9" y2="234.5" stroke="#b2b2b2" stroke-width="0.6"/>
<line x1="491.9" y1="234.5" x2="488.76" y2="236.4" stroke="#b2b2b2" stroke-width="0.6"/>
<line x1="488.76" y1="236.4" x2="488.16" y2="238" stroke="#777" stroke-width="0.6"/>
<text transform="translate(488.76 245.2) scale(0.86 1)" font-size="6.4" font-weight="normal" text-anchor="middle" fill="#141414" stroke="#141414" stroke-width="0.25">90</text>
<line x1="514" y1="234.5" x2="510.8" y2="236.4" stroke="#b2b2b2" stroke-width="0.6"/>
<line x1="510.8" y1="236.4" x2="510.2" y2="238" stroke="#777" stroke-width="0.6"/>
<text transform="translate(510.8 245.2) scale(0.86 1)" font-size="6.4" font-weight="normal" text-anchor="middle" fill="#141414" stroke="#141414" stroke-width="0.25">100</text>
<rect x="290.3" y="193.6" width="183.2" height="6.2" rx="1" ry="1" fill="#181818"/>
<rect x="291.4" y="195.2" width="180.8" height="3.45" fill="#cdcdcd"/>
<text y="199" font-weight="bold" fill="#1a1a1a" stroke="#1a1a1a" stroke-width="0.3"><tspan x="474.4" font-size="5.8" textLength="7.9" lengthAdjust="spacingAndGlyphs">no.</tspan><tspan x="482.6" font-size="8.6" textLength="9.3" lengthAdjust="spacingAndGlyphs">23</tspan></text>
<rect x="290.3" y="219.3" width="11.6" height="6.3" rx="1" ry="1" fill="#181818"/>
<rect x="291.3" y="220.1" width="9.4" height="1.8" fill="#7d7d7d"/>
<rect x="291.4" y="221.7" width="9.5" height="2.75" fill="#ffffff"/>
<line x1="301.9" y1="222.65" x2="312.5" y2="222.65" stroke="#181818" stroke-width="1.1"/>
<line x1="312.5" y1="219.05" x2="312.5" y2="225.75" stroke="#181818" stroke-width="1.1"/>
<text x="319.3" y="225.6" textLength="64.5" lengthAdjust="spacingAndGlyphs" font-size="9.4" font-weight="bold" fill="#1a1a1a" stroke="#1a1a1a" stroke-width="0.3">Normal controls</text>
<text transform="translate(278.8 247.7) rotate(-90) scale(0.96 1)" font-size="13.4" font-weight="bold" fill="#111" stroke="#111" stroke-width="0.35">TCR-V<tspan font-weight="normal" stroke-width="0.2">β</tspan>14.1</text>
<rect x="293" y="259.5" width="221" height="74.7" fill="#fff" stroke="#8a8a8a" stroke-width="0.7"/>
<polygon points="290.4,336.6 293,334.2 293,259.5 290.4,261.9" fill="#eeeeee" stroke="#b0b0b0" stroke-width="0.5"/>
<polygon points="290.4,336.6 293,334.2 514,334.2 510.8,336.6" fill="#f2f2f2" stroke="#6a6a6a" stroke-width="0.7"/>
<line x1="293" y1="334.2" x2="290.4" y2="336.6" stroke="#b2b2b2" stroke-width="0.6"/>
<line x1="290.4" y1="336.6" x2="289.8" y2="338.2" stroke="#777" stroke-width="0.6"/>
<text transform="translate(290.4 349.7) scale(0.86 1)" font-size="6.4" font-weight="normal" text-anchor="middle" fill="#141414" stroke="#141414" stroke-width="0.25">0</text>
<line x1="315.1" y1="259.5" x2="315.1" y2="334.2" stroke="#b2b2b2" stroke-width="0.6"/>
<line x1="315.1" y1="334.2" x2="312.44" y2="336.6" stroke="#b2b2b2" stroke-width="0.6"/>
<line x1="312.44" y1="336.6" x2="311.84" y2="338.2" stroke="#777" stroke-width="0.6"/>
<text transform="translate(312.44 349.7) scale(0.86 1)" font-size="6.4" font-weight="normal" text-anchor="middle" fill="#141414" stroke="#141414" stroke-width="0.25">10</text>
<line x1="337.2" y1="259.5" x2="337.2" y2="334.2" stroke="#b2b2b2" stroke-width="0.6"/>
<line x1="337.2" y1="334.2" x2="334.48" y2="336.6" stroke="#b2b2b2" stroke-width="0.6"/>
<line x1="334.48" y1="336.6" x2="333.88" y2="338.2" stroke="#777" stroke-width="0.6"/>
<text transform="translate(334.48 349.7) scale(0.86 1)" font-size="6.4" font-weight="normal" text-anchor="middle" fill="#141414" stroke="#141414" stroke-width="0.25">20</text>
<line x1="359.3" y1="259.5" x2="359.3" y2="334.2" stroke="#b2b2b2" stroke-width="0.6"/>
<line x1="359.3" y1="334.2" x2="356.52" y2="336.6" stroke="#b2b2b2" stroke-width="0.6"/>
<line x1="356.52" y1="336.6" x2="355.92" y2="338.2" stroke="#777" stroke-width="0.6"/>
<text transform="translate(356.52 349.7) scale(0.86 1)" font-size="6.4" font-weight="normal" text-anchor="middle" fill="#141414" stroke="#141414" stroke-width="0.25">30</text>
<line x1="381.4" y1="259.5" x2="381.4" y2="334.2" stroke="#b2b2b2" stroke-width="0.6"/>
<line x1="381.4" y1="334.2" x2="378.56" y2="336.6" stroke="#b2b2b2" stroke-width="0.6"/>
<line x1="378.56" y1="336.6" x2="377.96" y2="338.2" stroke="#777" stroke-width="0.6"/>
<text transform="translate(378.56 349.7) scale(0.86 1)" font-size="6.4" font-weight="normal" text-anchor="middle" fill="#141414" stroke="#141414" stroke-width="0.25">40</text>
<line x1="403.5" y1="259.5" x2="403.5" y2="334.2" stroke="#b2b2b2" stroke-width="0.6"/>
<line x1="403.5" y1="334.2" x2="400.6" y2="336.6" stroke="#b2b2b2" stroke-width="0.6"/>
<line x1="400.6" y1="336.6" x2="400" y2="338.2" stroke="#777" stroke-width="0.6"/>
<text transform="translate(400.6 349.7) scale(0.86 1)" font-size="6.4" font-weight="normal" text-anchor="middle" fill="#141414" stroke="#141414" stroke-width="0.25">50</text>
<line x1="425.6" y1="259.5" x2="425.6" y2="334.2" stroke="#b2b2b2" stroke-width="0.6"/>
<line x1="425.6" y1="334.2" x2="422.64" y2="336.6" stroke="#b2b2b2" stroke-width="0.6"/>
<line x1="422.64" y1="336.6" x2="422.04" y2="338.2" stroke="#777" stroke-width="0.6"/>
<text transform="translate(422.64 349.7) scale(0.86 1)" font-size="6.4" font-weight="normal" text-anchor="middle" fill="#141414" stroke="#141414" stroke-width="0.25">60</text>
<line x1="447.7" y1="259.5" x2="447.7" y2="334.2" stroke="#b2b2b2" stroke-width="0.6"/>
<line x1="447.7" y1="334.2" x2="444.68" y2="336.6" stroke="#b2b2b2" stroke-width="0.6"/>
<line x1="444.68" y1="336.6" x2="444.08" y2="338.2" stroke="#777" stroke-width="0.6"/>
<text transform="translate(444.68 349.7) scale(0.86 1)" font-size="6.4" font-weight="normal" text-anchor="middle" fill="#141414" stroke="#141414" stroke-width="0.25">70</text>
<line x1="469.8" y1="259.5" x2="469.8" y2="334.2" stroke="#b2b2b2" stroke-width="0.6"/>
<line x1="469.8" y1="334.2" x2="466.72" y2="336.6" stroke="#b2b2b2" stroke-width="0.6"/>
<line x1="466.72" y1="336.6" x2="466.12" y2="338.2" stroke="#777" stroke-width="0.6"/>
<text transform="translate(466.72 349.7) scale(0.86 1)" font-size="6.4" font-weight="normal" text-anchor="middle" fill="#141414" stroke="#141414" stroke-width="0.25">80</text>
<line x1="491.9" y1="259.5" x2="491.9" y2="334.2" stroke="#b2b2b2" stroke-width="0.6"/>
<line x1="491.9" y1="334.2" x2="488.76" y2="336.6" stroke="#b2b2b2" stroke-width="0.6"/>
<line x1="488.76" y1="336.6" x2="488.16" y2="338.2" stroke="#777" stroke-width="0.6"/>
<text transform="translate(488.76 349.7) scale(0.86 1)" font-size="6.4" font-weight="normal" text-anchor="middle" fill="#141414" stroke="#141414" stroke-width="0.25">90</text>
<line x1="514" y1="334.2" x2="510.8" y2="336.6" stroke="#b2b2b2" stroke-width="0.6"/>
<line x1="510.8" y1="336.6" x2="510.2" y2="338.2" stroke="#777" stroke-width="0.6"/>
<text transform="translate(510.8 349.7) scale(0.86 1)" font-size="6.4" font-weight="normal" text-anchor="middle" fill="#141414" stroke="#141414" stroke-width="0.25">100</text>
<rect x="290.3" y="270.1" width="202.2" height="6.4" rx="1" ry="1" fill="#181818"/>
<rect x="291.4" y="272.6" width="199.8" height="2.75" fill="#cdcdcd"/>
<text y="275.6" font-weight="bold" fill="#1a1a1a" stroke="#1a1a1a" stroke-width="0.3"><tspan x="493.1" font-size="5.8" textLength="9.2" lengthAdjust="spacingAndGlyphs">no.</tspan><tspan x="503" font-size="8.6" textLength="9.3" lengthAdjust="spacingAndGlyphs">26</tspan></text>
<rect x="290.3" y="295.3" width="173.2" height="5.7" rx="1" ry="1" fill="#181818"/>
<rect x="291.4" y="297.3" width="170.8" height="2.55" fill="#cdcdcd"/>
<text y="300.6" font-weight="bold" fill="#1a1a1a" stroke="#1a1a1a" stroke-width="0.3"><tspan x="464" font-size="5.8" textLength="9.2" lengthAdjust="spacingAndGlyphs">no.</tspan><tspan x="473.5" font-size="8.6" textLength="9.3" lengthAdjust="spacingAndGlyphs">25</tspan></text>
<rect x="290.3" y="320" width="13.5" height="6.5" rx="1" ry="1" fill="#181818"/>
<rect x="291.4" y="321.3" width="11.4" height="4.05" fill="#ffffff"/>
<line x1="303.8" y1="323.45" x2="309.1" y2="323.45" stroke="#181818" stroke-width="1.1"/>
<line x1="309.1" y1="319.85" x2="309.1" y2="326.55" stroke="#181818" stroke-width="1.1"/>
<text x="315.9" y="326.6" textLength="64.6" lengthAdjust="spacingAndGlyphs" font-size="9.4" font-weight="bold" fill="#1a1a1a" stroke="#1a1a1a" stroke-width="0.3">Normal controls</text>
<text transform="translate(278.9 337) rotate(-90) scale(0.98 1)" font-size="13.2" font-weight="bold" fill="#111" stroke="#111" stroke-width="0.35">TCR-V<tspan font-weight="normal" stroke-width="0.2">β</tspan>17.1</text>
<rect x="293" y="365.3" width="221" height="77.9" fill="#fff" stroke="#8a8a8a" stroke-width="0.7"/>
<polygon points="290.4,445.6 293,443.2 293,365.3 290.4,367.7" fill="#eeeeee" stroke="#b0b0b0" stroke-width="0.5"/>
<polygon points="290.4,445.6 293,443.2 514,443.2 510.8,445.6" fill="#f2f2f2" stroke="#6a6a6a" stroke-width="0.7"/>
<line x1="293" y1="443.2" x2="290.4" y2="445.6" stroke="#b2b2b2" stroke-width="0.6"/>
<line x1="290.4" y1="445.6" x2="289.8" y2="447.2" stroke="#777" stroke-width="0.6"/>
<text transform="translate(290.4 457.2) scale(0.86 1)" font-size="6.4" font-weight="normal" text-anchor="middle" fill="#141414" stroke="#141414" stroke-width="0.25">0</text>
<line x1="315.1" y1="365.3" x2="315.1" y2="443.2" stroke="#b2b2b2" stroke-width="0.6"/>
<line x1="315.1" y1="443.2" x2="312.44" y2="445.6" stroke="#b2b2b2" stroke-width="0.6"/>
<line x1="312.44" y1="445.6" x2="311.84" y2="447.2" stroke="#777" stroke-width="0.6"/>
<text transform="translate(312.44 457.2) scale(0.86 1)" font-size="6.4" font-weight="normal" text-anchor="middle" fill="#141414" stroke="#141414" stroke-width="0.25">10</text>
<line x1="337.2" y1="365.3" x2="337.2" y2="443.2" stroke="#b2b2b2" stroke-width="0.6"/>
<line x1="337.2" y1="443.2" x2="334.48" y2="445.6" stroke="#b2b2b2" stroke-width="0.6"/>
<line x1="334.48" y1="445.6" x2="333.88" y2="447.2" stroke="#777" stroke-width="0.6"/>
<text transform="translate(334.48 457.2) scale(0.86 1)" font-size="6.4" font-weight="normal" text-anchor="middle" fill="#141414" stroke="#141414" stroke-width="0.25">20</text>
<line x1="359.3" y1="365.3" x2="359.3" y2="443.2" stroke="#b2b2b2" stroke-width="0.6"/>
<line x1="359.3" y1="443.2" x2="356.52" y2="445.6" stroke="#b2b2b2" stroke-width="0.6"/>
<line x1="356.52" y1="445.6" x2="355.92" y2="447.2" stroke="#777" stroke-width="0.6"/>
<text transform="translate(356.52 457.2) scale(0.86 1)" font-size="6.4" font-weight="normal" text-anchor="middle" fill="#141414" stroke="#141414" stroke-width="0.25">30</text>
<line x1="381.4" y1="365.3" x2="381.4" y2="443.2" stroke="#b2b2b2" stroke-width="0.6"/>
<line x1="381.4" y1="443.2" x2="378.56" y2="445.6" stroke="#b2b2b2" stroke-width="0.6"/>
<line x1="378.56" y1="445.6" x2="377.96" y2="447.2" stroke="#777" stroke-width="0.6"/>
<text transform="translate(378.56 457.2) scale(0.86 1)" font-size="6.4" font-weight="normal" text-anchor="middle" fill="#141414" stroke="#141414" stroke-width="0.25">40</text>
<line x1="403.5" y1="365.3" x2="403.5" y2="443.2" stroke="#b2b2b2" stroke-width="0.6"/>
<line x1="403.5" y1="443.2" x2="400.6" y2="445.6" stroke="#b2b2b2" stroke-width="0.6"/>
<line x1="400.6" y1="445.6" x2="400" y2="447.2" stroke="#777" stroke-width="0.6"/>
<text transform="translate(400.6 457.2) scale(0.86 1)" font-size="6.4" font-weight="normal" text-anchor="middle" fill="#141414" stroke="#141414" stroke-width="0.25">50</text>
<line x1="425.6" y1="365.3" x2="425.6" y2="443.2" stroke="#b2b2b2" stroke-width="0.6"/>
<line x1="425.6" y1="443.2" x2="422.64" y2="445.6" stroke="#b2b2b2" stroke-width="0.6"/>
<line x1="422.64" y1="445.6" x2="422.04" y2="447.2" stroke="#777" stroke-width="0.6"/>
<text transform="translate(422.64 457.2) scale(0.86 1)" font-size="6.4" font-weight="normal" text-anchor="middle" fill="#141414" stroke="#141414" stroke-width="0.25">60</text>
<line x1="447.7" y1="365.3" x2="447.7" y2="443.2" stroke="#b2b2b2" stroke-width="0.6"/>
<line x1="447.7" y1="443.2" x2="444.68" y2="445.6" stroke="#b2b2b2" stroke-width="0.6"/>
<line x1="444.68" y1="445.6" x2="444.08" y2="447.2" stroke="#777" stroke-width="0.6"/>
<text transform="translate(444.68 457.2) scale(0.86 1)" font-size="6.4" font-weight="normal" text-anchor="middle" fill="#141414" stroke="#141414" stroke-width="0.25">70</text>
<line x1="469.8" y1="365.3" x2="469.8" y2="443.2" stroke="#b2b2b2" stroke-width="0.6"/>
<line x1="469.8" y1="443.2" x2="466.72" y2="445.6" stroke="#b2b2b2" stroke-width="0.6"/>
<line x1="466.72" y1="445.6" x2="466.12" y2="447.2" stroke="#777" stroke-width="0.6"/>
<text transform="translate(466.72 457.2) scale(0.86 1)" font-size="6.4" font-weight="normal" text-anchor="middle" fill="#141414" stroke="#141414" stroke-width="0.25">80</text>
<line x1="491.9" y1="365.3" x2="491.9" y2="443.2" stroke="#b2b2b2" stroke-width="0.6"/>
<line x1="491.9" y1="443.2" x2="488.76" y2="445.6" stroke="#b2b2b2" stroke-width="0.6"/>
<line x1="488.76" y1="445.6" x2="488.16" y2="447.2" stroke="#777" stroke-width="0.6"/>
<text transform="translate(488.76 457.2) scale(0.86 1)" font-size="6.4" font-weight="normal" text-anchor="middle" fill="#141414" stroke="#141414" stroke-width="0.25">90</text>
<line x1="514" y1="443.2" x2="510.8" y2="445.6" stroke="#b2b2b2" stroke-width="0.6"/>
<line x1="510.8" y1="445.6" x2="510.2" y2="447.2" stroke="#777" stroke-width="0.6"/>
<text transform="translate(510.8 457.2) scale(0.86 1)" font-size="6.4" font-weight="normal" text-anchor="middle" fill="#141414" stroke="#141414" stroke-width="0.25">100</text>
<rect x="290.3" y="376.4" width="123.7" height="6.6" rx="1" ry="1" fill="#181818"/>
<rect x="291.4" y="378.4" width="121.3" height="3.45" fill="#cdcdcd"/>
<text y="382.3" font-weight="bold" fill="#1a1a1a" stroke="#1a1a1a" stroke-width="0.3"><tspan x="416.3" font-size="5.8" textLength="9.2" lengthAdjust="spacingAndGlyphs">no.</tspan><tspan x="427" font-size="8.6" textLength="9.3" lengthAdjust="spacingAndGlyphs">19</tspan></text>
<rect x="290.3" y="402.3" width="72.8" height="6.6" rx="1" ry="1" fill="#181818"/>
<rect x="291.4" y="404.8" width="70.4" height="2.95" fill="#cdcdcd"/>
<text y="408" font-weight="bold" fill="#1a1a1a" stroke="#1a1a1a" stroke-width="0.3"><tspan x="363.8" font-size="5.8" textLength="8.5" lengthAdjust="spacingAndGlyphs">no.</tspan><tspan x="372.6" font-size="8.6" textLength="9.3" lengthAdjust="spacingAndGlyphs">26</tspan></text>
<rect x="290.3" y="428.9" width="9.3" height="5.8" rx="1" ry="1" fill="#181818"/>
<rect x="291.4" y="430.2" width="7.2" height="3.35" fill="#ffffff"/>
<line x1="299.6" y1="432" x2="303.9" y2="432" stroke="#181818" stroke-width="1.1"/>
<line x1="303.9" y1="428.4" x2="303.9" y2="435.1" stroke="#181818" stroke-width="1.1"/>
<text x="309.2" y="434.5" textLength="64.8" lengthAdjust="spacingAndGlyphs" font-size="9.4" font-weight="bold" fill="#1a1a1a" stroke="#1a1a1a" stroke-width="0.3">Normal controls</text>
<text transform="translate(279 439.2) rotate(-90) scale(0.99 1)" font-size="13.2" font-weight="bold" fill="#111" stroke="#111" stroke-width="0.35">TCR-V<tspan font-weight="normal" stroke-width="0.2">β</tspan>22</text>
<text x="29.5" y="482.5" textLength="220" lengthAdjust="spacingAndGlyphs" font-size="13" font-weight="bold" fill="#111" stroke="#111" stroke-width="0.3">Percentage from total PB CD4+ T-cells</text>
<text x="292.5" y="482.5" textLength="220.5" lengthAdjust="spacingAndGlyphs" font-size="13" font-weight="bold" fill="#111" stroke="#111" stroke-width="0.3">Percentage from total PB CD4+ T-cells</text>
</svg>
</body>
</html>
